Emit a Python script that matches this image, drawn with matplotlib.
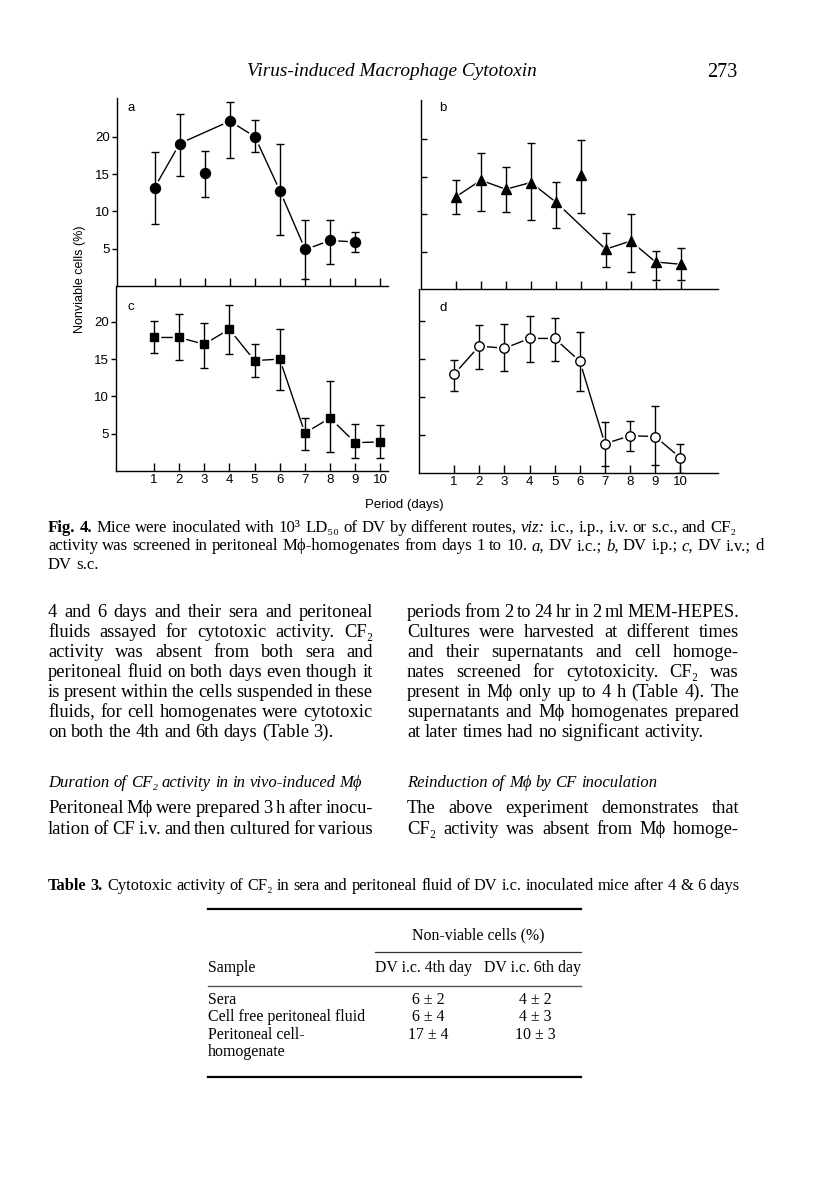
import matplotlib
matplotlib.use('Agg')
import matplotlib.pyplot as plt
from matplotlib.lines import Line2D
import numpy as np

W, H = 816, 1202
SERIF = ['Liberation Serif', 'DejaVu Serif']
SANS = ['Liberation Sans', 'DejaVu Sans']

# --- chart data: nonviable cells (%) by day, with error bar ends ---
days = np.arange(1, 11)

a_val = [13.2, 19.1, 15.2, 22.1, 20.0, 12.7, 4.9, 6.1, 5.9]
a_lo = [8.3, 14.8, 11.9, 17.2, 17.9, 6.9, 1.0, 3.0, 4.5]
a_hi = [18.0, 23.0, 18.1, 24.7, 22.3, 19.1, 8.8, 8.9, 7.3]
a_joined = [1, 2, 4, 5, 6, 7, 8, 9]

b_val = [12.3, 14.5, 13.3, 14.2, 11.6, 15.2, 5.3, 6.4, 3.6, 3.3]
b_lo = [10.0, 10.4, 10.3, 9.2, 8.1, 10.2, 3.0, 2.3, 1.2, 1.2]
b_hi = [14.6, 18.2, 16.3, 19.5, 14.3, 19.9, 7.5, 10.0, 5.1, 5.5]
b_joined = [1, 2, 3, 4, 5, 7, 8, 9, 10]

c_val = [17.9, 17.9, 17.0, 19.0, 14.8, 15.0, 5.1, 7.1, 3.8, 3.9]
c_lo = [15.8, 14.9, 13.8, 15.7, 12.6, 10.9, 2.8, 2.5, 1.8, 1.8]
c_hi = [20.1, 21.0, 19.9, 22.2, 17.0, 19.0, 7.1, 12.0, 6.25, 6.2]
c_joined = [1, 2, 3, 4, 5, 6, 7, 8, 9, 10]

d_val = [13.0, 16.7, 16.4, 17.7, 17.7, 14.7, 3.85, 4.9, 4.8, 2.0]
d_lo = [10.8, 13.7, 13.4, 14.6, 14.7, 10.8, 0.9, 2.9, 1.0, 0.0]
d_hi = [14.9, 19.5, 19.6, 20.6, 20.4, 18.5, 6.7, 6.9, 8.8, 3.8]
d_joined = [1, 2, 3, 4, 5, 6, 7, 8, 9, 10]

y_ticks = [5, 10, 15, 20]

# --- table 3 ---
table_samples = ['Sera', 'Cell free peritoneal fluid', 'Peritoneal cell-', 'homogenate']
table_day4 = ['6 ± 2', '6 ± 4', '17 ± 4', '']
table_day6 = ['4 ± 2', '4 ± 3', '10 ± 3', '']

fig = plt.figure(figsize=(W / 100, H / 100), dpi=100)
fig.patch.set_facecolor('white')
renderer = fig.canvas.get_renderer()


def px(l, t, r, b):
    return [l / W, 1 - b / H, (r - l) / W, (b - t) / H]


def panel(rect, vals, lo, hi, joined, marker, face, ms,
          xlim, ylim, labels_y, labels_x, ytick_dir):
    ax = fig.add_axes(px(*rect))
    vals = np.array(vals)
    lo = np.array(lo)
    hi = np.array(hi)
    x = days[:len(vals)]
    idx = [d - 1 for d in joined]
    ax.plot(x[idx], vals[idx], color='k', lw=1.0, zorder=2)
    # white halo leaves the small gap between line and marker seen in the print
    ax.plot(x, vals, ls='none', marker=marker, ms=ms + 3, color='white', zorder=3)
    ax.errorbar(x, vals, yerr=[vals - lo, hi - vals], fmt='none', ecolor='k',
                elinewidth=1.0, capsize=2.6, capthick=1.0, zorder=4)
    ax.plot(x, vals, ls='none', marker=marker, ms=ms, mfc=face, mec='k',
            mew=1.0, zorder=5)
    ax.set_xlim(*xlim)
    ax.set_ylim(*ylim)
    ax.spines[['top', 'right']].set_visible(False)
    for s in ['left', 'bottom']:
        ax.spines[s].set_linewidth(1.0)
    ax.set_xticks(days)
    ax.set_yticks(y_ticks)
    ax.tick_params(axis='x', direction='in', length=5.5, width=1.0, pad=2.5,
                   labelsize=9.5, labelbottom=labels_x)
    ax.tick_params(axis='y', direction=ytick_dir, length=3.5 if ytick_dir == 'out' else 4.5,
                   width=1.0, pad=1.5, labelsize=9.5, labelleft=labels_y)
    for lab in ax.get_xticklabels() + ax.get_yticklabels():
        lab.set_family(SANS)
    ax.patch.set_alpha(0)
    return ax


panel((117, 98, 388, 286), a_val, a_lo, a_hi, a_joined, 'o', 'k', 7.2,
      (-0.5, 10.3), (0, 25.2), True, False, 'out')
panel((421, 100, 718, 289), b_val, b_lo, b_hi, b_joined, '^', 'k', 7.5,
      (-0.4, 11.5), (0, 25.2), False, False, 'in')
panel((116, 286, 388, 471), c_val, c_lo, c_hi, c_joined, 's', 'k', 6.3,
      (-0.5, 10.3), (0, 24.8), True, True, 'out')
panel((419, 289, 718, 473), d_val, d_lo, d_hi, d_joined, 'o', 'white', 6.8,
      (-0.4, 11.5), (0, 24.2), False, True, 'in')


def ftext(x, y, s, **kw):
    kw.setdefault('color', 'k')
    return fig.text(x / W, 1 - y / H, s, **kw)


for letter, (lx, ly) in zip('abcd', [(131, 108), (443, 108), (131, 307), (443, 308)]):
    ftext(lx, ly, letter, family=SANS, fontsize=9.5, ha='center', va='center')

ftext(80, 279, 'Nonviable cells (%)', family=SANS, fontsize=9, rotation=90,
      ha='center', va='center')
ftext(404, 505, 'Period (days)', family=SANS, fontsize=9.5, ha='center', va='center')


# --- page text helpers ---
def split_words(line, style):
    out = []
    for tok in line.split(' '):
        st, wt, s = style, 'normal', tok
        if len(tok) > 2 and tok[0] == tok[-1] == '_':
            st, s = 'italic', tok[1:-1]
        elif len(tok) > 2 and tok[0] == tok[-1] == '*':
            wt, s = 'bold', tok[1:-1]
        out.append((s, st, wt))
    return out


def natural_width(line, size, style='normal'):
    t = fig.text(0, 0, line.replace('_', '').replace('*', ''), fontsize=size,
                 family=SERIF, style=style)
    w = t.get_window_extent(renderer).width
    t.remove()
    return w


def fit_size(line, width, style='normal'):
    return 10 * width / natural_width(line, 10, style)


def place(line, x0, x1, y, size, justify=False, style='normal'):
    items = []
    for s, st, wt in split_words(line, style):
        t = ftext(x0, y, s, fontsize=size, family=SERIF, style=st, weight=wt,
                  ha='left', va='baseline')
        items.append((t, t.get_window_extent(renderer).width))
    total = sum(w for _, w in items)
    if justify and len(items) > 1:
        gap = (x1 - x0 - total) / (len(items) - 1)
    else:
        gap = size * 100 / 72 * 0.25
    x = x0
    for t, w in items:
        t.set_x(x / W)
        x += w + gap


# header
hsize = fit_size('Virus-induced Macrophage Cytotoxin', 290, 'italic')
ftext(247, 76, 'Virus-induced Macrophage Cytotoxin', family=SERIF, style='italic',
      fontsize=hsize, ha='left', va='baseline')
ftext(737, 77, '273', family=SERIF, fontsize=hsize * 1.05, ha='right', va='baseline')

# figure caption
cap = ['*Fig.* *4.* Mice were inoculated with 10³ LD₅₀ of DV by different routes, _viz:_ i.c., i.p., i.v. or s.c., and CF₂',
       'activity was screened in peritoneal Mϕ-homogenates from days 1 to 10. _a,_ DV i.c.; _b,_ DV i.p.; _c,_ DV i.v.; d',
       'DV s.c.']
csize = fit_size(cap[0], 690)
for i, line in enumerate(cap):
    place(line, 48, 738, 532 + 18.5 * i, csize)

# body columns
left_col = ['4 and 6 days and their sera and peritoneal',
            'fluids assayed for cytotoxic activity. CF₂',
            'activity was absent from both sera and',
            'peritoneal fluid on both days even though it',
            'is present within the cells suspended in these',
            'fluids, for cell homogenates were cytotoxic',
            'on both the 4th and 6th days (Table 3).']
right_col = ['periods from 2 to 24 hr in 2 ml MEM-HEPES.',
             'Cultures were harvested at different times',
             'and their supernatants and cell homoge-',
             'nates screened for cytotoxicity. CF₂ was',
             'present in Mϕ only up to 4 h (Table 4). The',
             'supernatants and Mϕ homogenates prepared',
             'at later times had no significant activity.']
bsize = 0.5 * (fit_size(right_col[5], 332) + fit_size(left_col[4], 325))
LX0, LX1, RX0, RX1 = 48, 373, 407, 739
for i, line in enumerate(left_col):
    place(line, LX0, LX1, 617 + 20 * i, bsize, justify=i < len(left_col) - 1)
for i, line in enumerate(right_col):
    place(line, RX0, RX1, 617 + 20 * i, bsize, justify=i < len(right_col) - 1)

head_l = 'Duration of CF₂ activity in in vivo-induced Mϕ'
head_r = 'Reinduction of Mϕ by CF inoculation'
isize = min(bsize, fit_size(head_l, 315, 'italic'))
place(head_l, LX0, LX1, 787, isize, style='italic')
place(head_r, RX0, RX1, 787, isize, style='italic')

left_par = ['Peritoneal Mϕ were prepared 3 h after inocu-',
            'lation of CF i.v. and then cultured for various']
right_par = ['The above experiment demonstrates that',
             'CF₂ activity was absent from Mϕ homoge-']
for i, line in enumerate(left_par):
    place(line, LX0, LX1, 813 + 20.5 * i, bsize, justify=True)
for i, line in enumerate(right_par):
    place(line, RX0, RX1, 813 + 20.5 * i, bsize, justify=True)

# table 3
tcap = '*Table* *3.* Cytotoxic activity of CF₂ in sera and peritoneal fluid of DV i.c. inoculated mice after 4 & 6 days'
place(tcap, 48, 735, 890, fit_size(tcap, 687))

tsize = fit_size('Cell free peritoneal fluid', 156)
TL, TR = 208, 581


def rule(x0, x1, y, lw, color='k'):
    fig.add_artist(Line2D([x0 / W, x1 / W], [1 - y / H] * 2, lw=lw, color=color,
                          transform=fig.transFigure))


rule(TL, TR, 909, 1.6)
ftext(478, 939, 'Non-viable cells (%)', family=SERIF, fontsize=tsize, ha='center', va='baseline')
rule(375, TR, 952, 0.9, '#333333')
ftext(TL, 972, 'Sample', family=SERIF, fontsize=tsize, ha='left', va='baseline')
ftext(375, 972, 'DV i.c. 4th day', family=SERIF, fontsize=tsize, ha='left', va='baseline')
ftext(TR, 972, 'DV i.c. 6th day', family=SERIF, fontsize=tsize, ha='right', va='baseline')
rule(TL, TR, 986, 1.0, '#555555')
for i, (s, v4, v6) in enumerate(zip(table_samples, table_day4, table_day6)):
    y = 1004 + 17.3 * i
    ftext(TL, y, s, family=SERIF, fontsize=tsize, ha='left', va='baseline')
    ftext(428, y, v4, family=SERIF, fontsize=tsize, ha='center', va='baseline')
    ftext(535, y, v6, family=SERIF, fontsize=tsize, ha='center', va='baseline')
rule(TL, TR, 1077, 1.6)

fig.savefig('out.png', dpi=100, facecolor='white')
